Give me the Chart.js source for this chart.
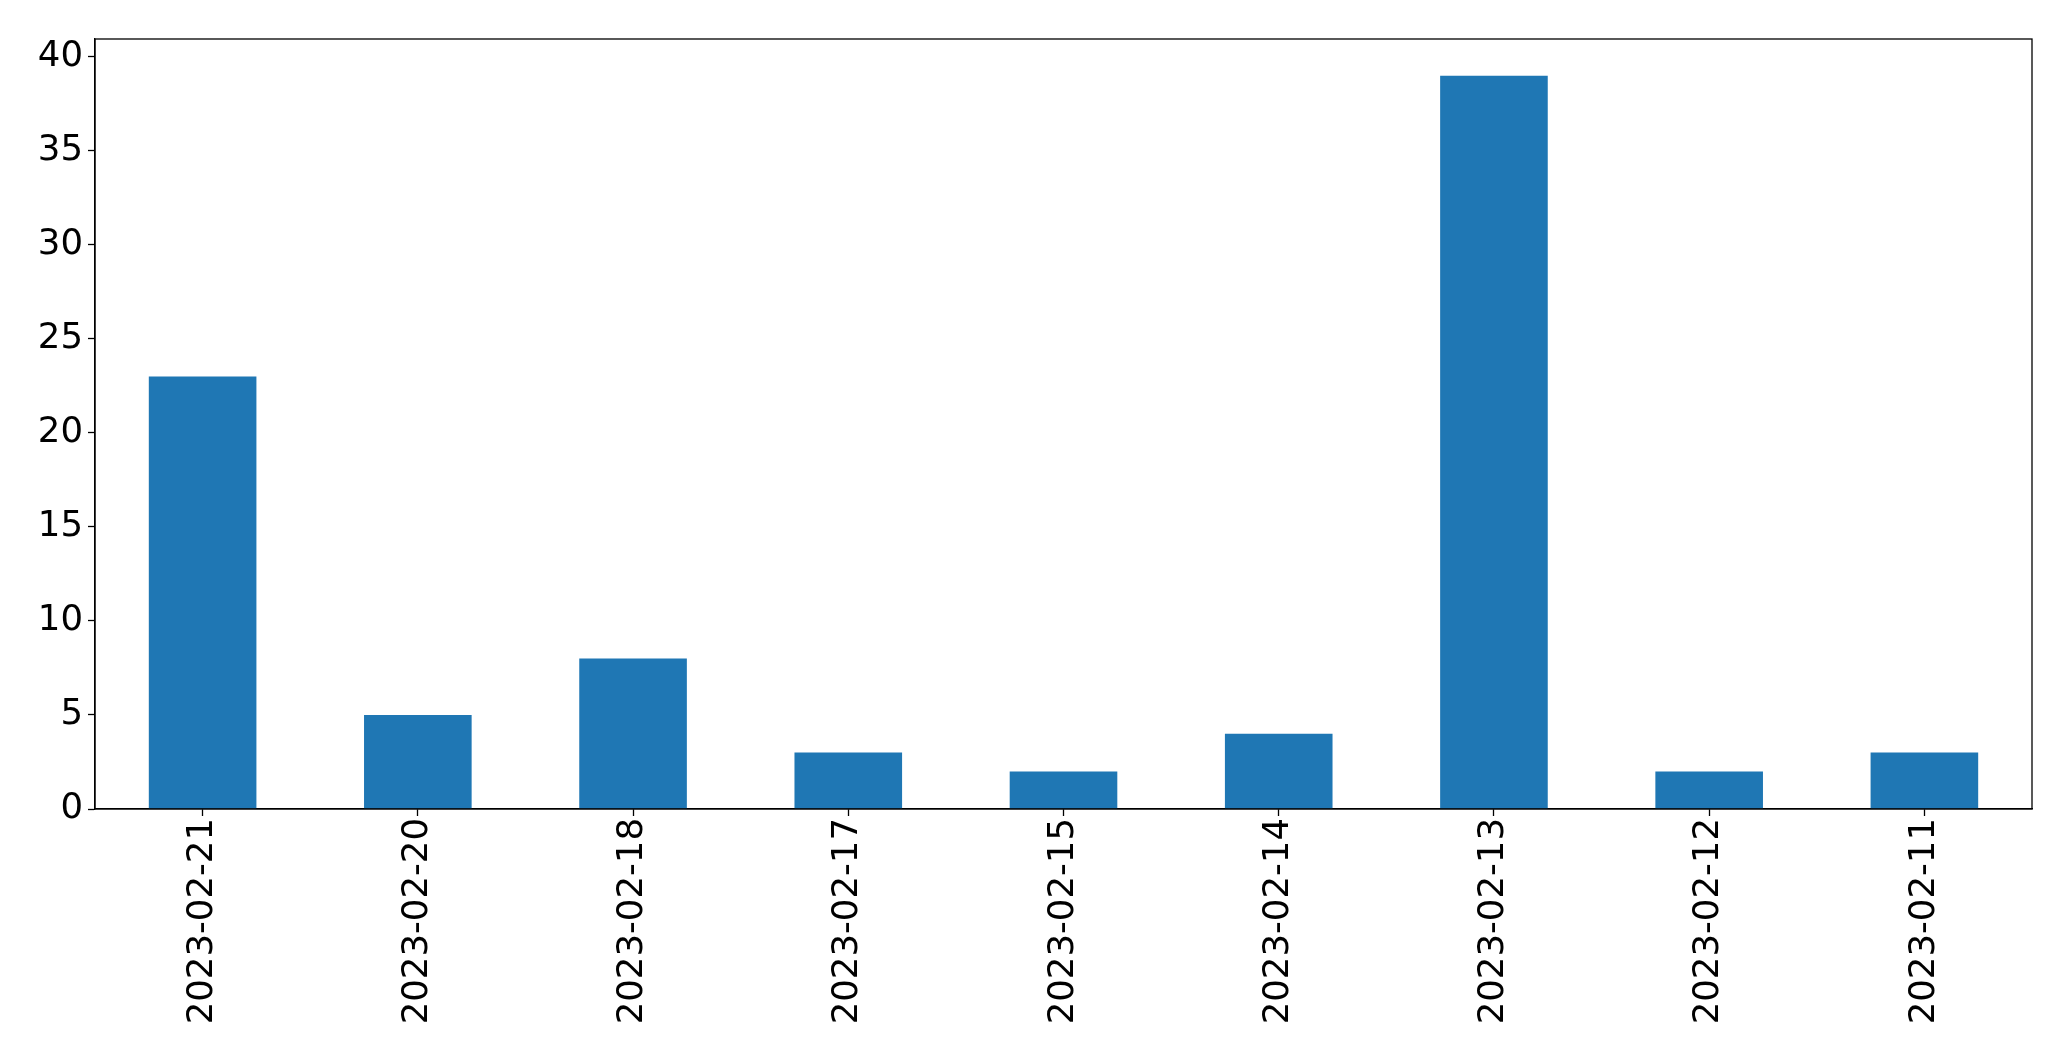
<!DOCTYPE html>
<html>
<head>
<meta charset="utf-8">
<script src="https://cdn.jsdelivr.net/npm/chart.js@4.4.0/dist/chart.umd.min.js"></script>
<style>
  html, body { margin: 0; padding: 0; background: #fff; }
  #wrap { width: 2071px; height: 1061px; }
</style>
</head>
<body>
<div id="wrap"><canvas id="myChart" width="2071" height="1061"></canvas></div>
<script>
const dates = ["2023-02-21", "2023-02-20", "2023-02-18", "2023-02-17", "2023-02-15",
               "2023-02-14", "2023-02-13", "2023-02-12", "2023-02-11"];
const counts = [23, 5, 8, 3, 2, 4, 39, 2, 3];
const yTicks = [0, 5, 10, 15, 20, 25, 30, 35, 40];

// draws the top and right edges of the box
const frame = {
    id: 'frame',
    afterDraw(chart) {
        const { ctx, chartArea: a } = chart;
        ctx.save();
        ctx.strokeStyle = '#000';
        ctx.lineWidth = 1.3;
        ctx.strokeRect(a.left, a.top, a.right - a.left, a.bottom - a.top);
        ctx.restore();
    }
};

const font = { family: 'DejaVu Sans', size: 35.5 };

new Chart(document.getElementById('myChart'), {
    type: 'bar',
    data: {
        labels: dates,
        datasets: [{
            data: counts,
            backgroundColor: '#1f77b4',
            barPercentage: 0.5,
            categoryPercentage: 1
        }]
    },
    options: {
        responsive: false,
        animation: false,
        layout: { padding: { top: 39, right: 39, left: 0, bottom: 0 } },
        plugins: { legend: { display: false }, tooltip: { enabled: false } },
        scales: {
            x: {
                offset: true,
                grid: { display: true, offset: false, drawOnChartArea: false, tickLength: 7, tickWidth: 1.3, color: '#000' },
                border: { display: true, color: '#000', width: 1.3 },
                ticks: { color: '#000', font: font, minRotation: 90, maxRotation: 90, padding: 2 },
                afterFit(scale) { scale.height = 252; }
            },
            y: {
                min: 0,
                max: 40.95,
                afterBuildTicks(scale) { scale.ticks = yTicks.map(v => ({ value: v })); },
                grid: { display: true, drawOnChartArea: false, tickLength: 7, tickWidth: 1.3, color: '#000' },
                border: { display: true, color: '#000', width: 1.3 },
                ticks: { color: '#000', font: font, padding: 5 },
                afterFit(scale) { scale.width = 95; }
            }
        }
    },
    plugins: [frame]
});
</script>
</body>
</html>
